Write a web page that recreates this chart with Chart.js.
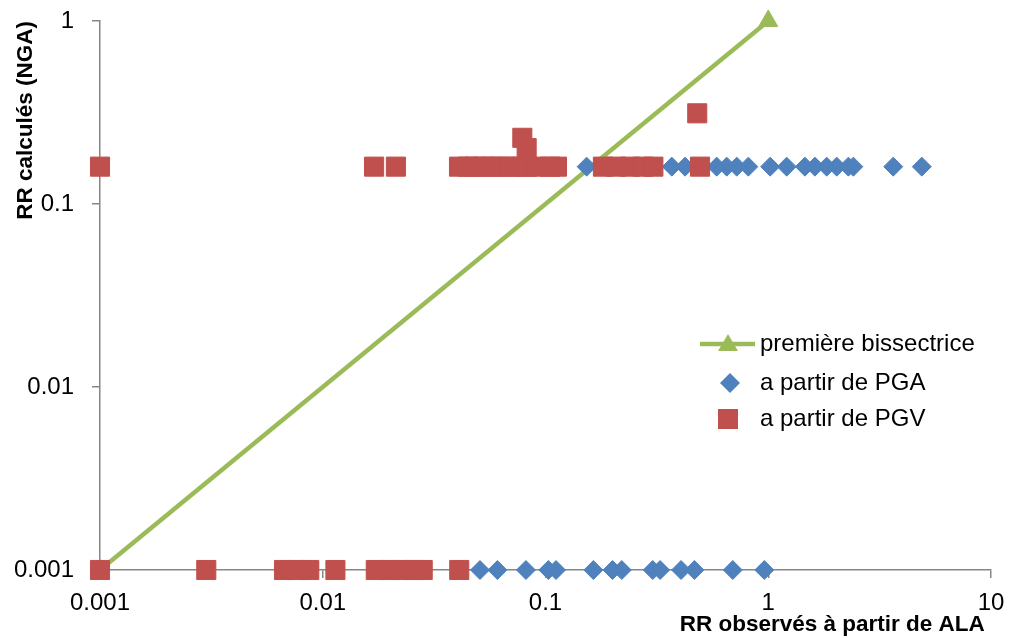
<!DOCTYPE html>
<html>
<head>
<meta charset="utf-8">
<script src="https://cdn.jsdelivr.net/npm/chart.js@4/dist/chart.umd.min.js"></script>
<style>
  html, body { margin: 0; padding: 0; background: #fff; }
  #chart { display: block; }
</style>
</head>
<body>
<canvas id="chart" width="1009" height="638"></canvas>
<script>
// axis ticks
const xTickValues = [0.001, 0.01, 0.1, 1, 10];
const xTickLabels = ['0.001', '0.01', '0.1', '1', '10'];
const yTickValues = [0.001, 0.01, 0.1, 1];
const yTickLabels = ['0.001', '0.01', '0.1', '1'];

// première bissectrice
const bisX = [0.001, 1];
const bisY = [0.001, 1];

// a partir de PGA (observé, calculé)
const pgaX = [0.0508, 0.0608, 0.0817, 0.103, 0.1115, 0.164, 0.2, 0.22, 0.303, 0.327, 0.406, 0.466, 0.693, 0.96,
              0.153, 0.369, 0.423, 0.587, 0.651, 0.722, 0.814, 1.02, 1.21, 1.46, 1.62, 1.83, 2.03, 2.29, 2.41, 3.64, 4.89];
const pgaY = [0.001, 0.001, 0.001, 0.001, 0.001, 0.001, 0.001, 0.001, 0.001, 0.001, 0.001, 0.001, 0.001, 0.001,
              0.16, 0.16, 0.16, 0.16, 0.16, 0.16, 0.16, 0.16, 0.16, 0.16, 0.16, 0.16, 0.16, 0.16, 0.16, 0.16, 0.16];

// a partir de PGV
const pgvX = [0.001, 0.003, 0.0067, 0.0076, 0.0087, 0.0114, 0.0173, 0.02, 0.0229, 0.0254, 0.0281, 0.041,
              0.001, 0.017, 0.0213, 0.0409, 0.0449, 0.0483, 0.0524, 0.0575, 0.0625, 0.0693, 0.0768, 0.0826, 0.0916,
              0.1048, 0.1126, 0.181, 0.207, 0.24, 0.274, 0.305, 0.494, 0.0787, 0.0823, 0.48];
const pgvY = [0.001, 0.001, 0.001, 0.001, 0.001, 0.001, 0.001, 0.001, 0.001, 0.001, 0.001, 0.001,
              0.16, 0.16, 0.16, 0.16, 0.16, 0.16, 0.16, 0.16, 0.16, 0.16, 0.16, 0.16, 0.16,
              0.16, 0.16, 0.16, 0.16, 0.16, 0.16, 0.16, 0.16, 0.23, 0.202, 0.313];

const GREEN = '#9BBB59';
const BLUE = '#4F81BD';
const RED = '#C0504D';
const AXIS = '#868686';
const FONT = "'Liberation Sans', Arial, sans-serif";

function pts(xs, ys) {
    return xs.map((x, i) => ({ x: x, y: ys[i] }));
}

// stop chart.js from shrinking the plot for label overflow
function noPad(s) {
    s.paddingLeft = 0;
    s.paddingRight = 0;
    s.paddingTop = 0;
    s.paddingBottom = 0;
}

const legendItems = [
    { text: 'première bissectrice', kind: 'line' },
    { text: 'a partir de PGA', kind: 'diamond' },
    { text: 'a partir de PGV', kind: 'square' }
];

// legend drawn inside the plot, like the Excel one
const insideLegend = {
    id: 'insideLegend',
    afterDatasetsDraw(chart) {
        const ctx = chart.ctx;
        const rows = [344, 383, 419];
        ctx.save();
        legendItems.forEach((item, i) => {
            const y = rows[i];
            if (item.kind === 'line') {
                ctx.strokeStyle = GREEN;
                ctx.lineWidth = 4.5;
                ctx.beginPath();
                ctx.moveTo(700, y);
                ctx.lineTo(755, y);
                ctx.stroke();
                ctx.fillStyle = GREEN;
                ctx.beginPath();
                ctx.moveTo(728, y - 10);
                ctx.lineTo(738, y + 7);
                ctx.lineTo(718, y + 7);
                ctx.closePath();
                ctx.fill();
            } else if (item.kind === 'diamond') {
                ctx.fillStyle = BLUE;
                ctx.beginPath();
                ctx.moveTo(730, y - 10);
                ctx.lineTo(740, y);
                ctx.lineTo(730, y + 10);
                ctx.lineTo(720, y);
                ctx.closePath();
                ctx.fill();
            } else {
                ctx.fillStyle = RED;
                ctx.fillRect(718, y - 10, 20, 20);
            }
            ctx.fillStyle = '#000';
            ctx.font = '24px ' + FONT;
            ctx.textBaseline = 'middle';
            ctx.textAlign = 'left';
            ctx.fillText(item.text, 760, y);
        });
        ctx.restore();
    }
};

const ctx = document.getElementById('chart');

new Chart(ctx, {
    type: 'scatter',
    data: {
        datasets: [
            {
                label: 'première bissectrice',
                data: pts(bisX, bisY),
                showLine: true,
                borderColor: GREEN,
                backgroundColor: GREEN,
                borderWidth: 4.5,
                pointStyle: 'triangle',
                pointRadius: 11,
                pointBorderWidth: 1,
                clip: false,
                order: 3
            },
            {
                label: 'a partir de PGA',
                data: pts(pgaX, pgaY),
                borderColor: BLUE,
                backgroundColor: BLUE,
                pointStyle: 'rectRot',
                pointRadius: 9.5,
                pointBorderWidth: 1,
                clip: false,
                order: 2
            },
            {
                label: 'a partir de PGV',
                data: pts(pgvX, pgvY),
                borderColor: RED,
                backgroundColor: RED,
                pointStyle: 'rect',
                pointRadius: 13.5,
                pointBorderWidth: 1,
                clip: false,
                order: 1
            }
        ]
    },
    options: {
        responsive: false,
        animation: false,
        layout: {
            padding: { left: 0, top: 21, right: 18, bottom: 0 }
        },
        plugins: {
            legend: { display: false },
            tooltip: { enabled: false }
        },
        scales: {
            x: {
                type: 'logarithmic',
                min: 0.001,
                max: 10,
                afterBuildTicks: s => { s.ticks = xTickValues.map(v => ({ value: v })); },
                afterFit: s => { s.height = 68; noPad(s); },
                ticks: {
                    padding: 11,
                    color: '#000',
                    font: { family: FONT, size: 24 },
                    maxRotation: 0,
                    autoSkip: false,
                    callback: v => xTickLabels[xTickValues.indexOf(v)]
                },
                grid: {
                    display: true,
                    drawOnChartArea: false,
                    drawTicks: true,
                    tickLength: 8,
                    color: AXIS,
                    lineWidth: 1.5
                },
                border: { display: true, color: AXIS, width: 1.5 },
                title: {
                    display: true,
                    text: 'RR observés à partir de ALA ',
                    align: 'end',
                    color: '#000',
                    font: { family: FONT, size: 22.5, weight: 'bold' },
                    padding: { top: 0, bottom: 0 }
                }
            },
            y: {
                type: 'logarithmic',
                min: 0.001,
                max: 1,
                afterBuildTicks: s => { s.ticks = yTickValues.map(v => ({ value: v })); },
                afterFit: s => { s.width = 100; noPad(s); },
                ticks: {
                    padding: 18,
                    color: '#000',
                    font: { family: FONT, size: 24 },
                    autoSkip: false,
                    callback: v => yTickLabels[yTickValues.indexOf(v)]
                },
                grid: {
                    display: true,
                    drawOnChartArea: false,
                    drawTicks: true,
                    tickLength: 8,
                    color: AXIS,
                    lineWidth: 1.5
                },
                border: { display: true, color: AXIS, width: 1.5 },
                title: {
                    display: true,
                    text: 'RR calculés (NGA)',
                    align: 'end',
                    color: '#000',
                    font: { family: FONT, size: 22.5, weight: 'bold' },
                    padding: { top: 12, bottom: 0 }
                }
            }
        }
    },
    plugins: [insideLegend]
});
</script>
</body>
</html>
